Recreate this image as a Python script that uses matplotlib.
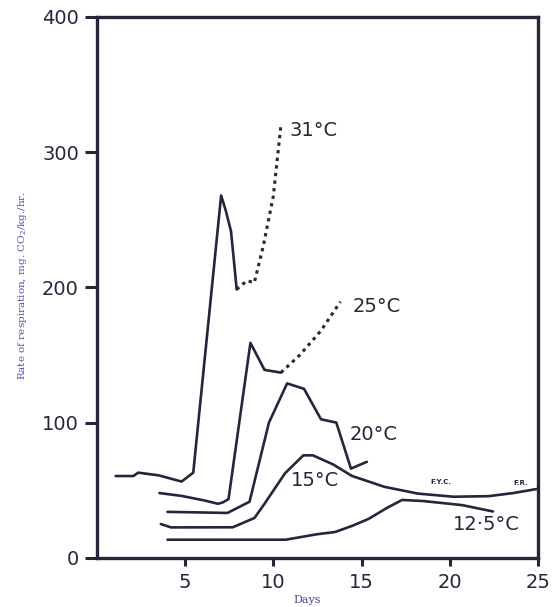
import matplotlib
matplotlib.use("Agg")
import matplotlib.pyplot as plt

# --- data (days, mg CO2/kg/hr) ---
d31 = [1.06, 2.06, 2.34, 3.5, 4.8, 5.46, 7.04, 7.3, 7.6, 7.8, 7.92]
r31 = [60.5, 60.5, 63, 61, 56.4, 63, 268, 257, 241.5, 215, 198.5]
d31_dot = [7.92, 8.5, 8.92, 9.43, 10.0, 10.43]
r31_dot = [198.5, 205, 203.5, 230.6, 267.6, 320]

d25 = [3.54, 4.8, 6.1, 6.86, 7.14, 7.46, 8.7, 9.5, 10.43]
r25 = [47.9, 45.8, 42.4, 40, 41, 43.5, 159, 139, 137]
d25_dot = [10.43, 11.5, 12.7, 13.8]
r25_dot = [137, 150, 168, 189.4]

d20 = [4.0, 7.4, 8.65, 9.75, 10.78, 11.74, 12.7, 13.57, 14.4, 15.3]
r20 = [34, 33.2, 41.5, 100, 129, 125, 102.5, 100, 66, 71]

d15 = [3.62, 4.2, 7.7, 8.93, 9.5, 10.66, 11.7, 12.24, 13.4, 14.45,
       16.3, 18.2, 20.2, 22.2, 23.6, 24.93]
r15 = [25, 22.5, 22.6, 29.5, 40, 62.5, 75.8, 75.8, 69, 60.6,
       52.5, 47.5, 45.2, 45.6, 47.9, 50.9]

d125 = [4.0, 10.7, 12.45, 13.5, 14.5, 15.4, 16.45, 17.3, 18.5, 20.7, 22.45]
r125 = [13.4, 13.4, 17.4, 19.1, 23.8, 28.8, 37, 42.8, 42, 39, 34.3]

x_ticks = [5, 10, 15, 20, 25]
y_ticks = [0, 100, 200, 300, 400]

ink = "#26263a"
label_col = "#5550a8"
big = dict(family="DejaVu Sans", fontsize=14, color=ink)

fig = plt.figure(figsize=(5.54, 6.07), dpi=100)
ax = fig.add_axes([0.175, 0.081, 0.796, 0.891])

solid = dict(color=ink, lw=1.9, solid_joinstyle="round", solid_capstyle="round")
dots = dict(color=ink, lw=2.2, linestyle=(0, (1.1, 1.4)))

ax.plot(d31, r31, **solid)
ax.plot(d31_dot, r31_dot, **dots)
ax.plot(d25, r25, **solid)
ax.plot(d25_dot, r25_dot, **dots)
ax.plot(d20, r20, **solid)
ax.plot(d15, r15, **solid)
ax.plot(d125, r125, **solid)

ax.text(10.9, 316, "31°C", va="center", **big)
ax.text(14.5, 186, "25°C", va="center", **big)
ax.text(14.3, 91, "20°C", va="center", **big)
ax.text(11.0, 57, "15°C", va="center", **big)
ax.text(20.2, 25, "12·5°C", va="center", **big)
ax.text(18.9, 56, "F.Y.C.", fontsize=5, color=ink, va="center", fontweight="bold")
ax.text(23.6, 55, "F.R.", fontsize=5, color=ink, va="center", fontweight="bold")

ax.set_xlim(0, 25)
ax.set_ylim(0, 400)
ax.set_xticks(x_ticks)
ax.set_yticks(y_ticks)
ax.set_xticklabels([str(v) for v in x_ticks], **big)
ax.set_yticklabels([str(v) for v in y_ticks], **big)
ax.tick_params(axis="both", direction="out", length=6, width=2.2, color=ink, pad=5)
ax.tick_params(axis="y", length=9, pad=4)
for s in ax.spines.values():
    s.set_linewidth(2.4)
    s.set_color(ink)

fig.text(0.04, 0.53, "Rate of respiration, mg. CO$_2$/kg./hr.", rotation=90,
         ha="center", va="center", family="DejaVu Serif", fontsize=7.5,
         color=label_col)
fig.text(0.555, 0.012, "Days", ha="center", va="center", family="DejaVu Serif",
         fontsize=8, color="#4a4890")

fig.savefig("out.png", dpi=100)
